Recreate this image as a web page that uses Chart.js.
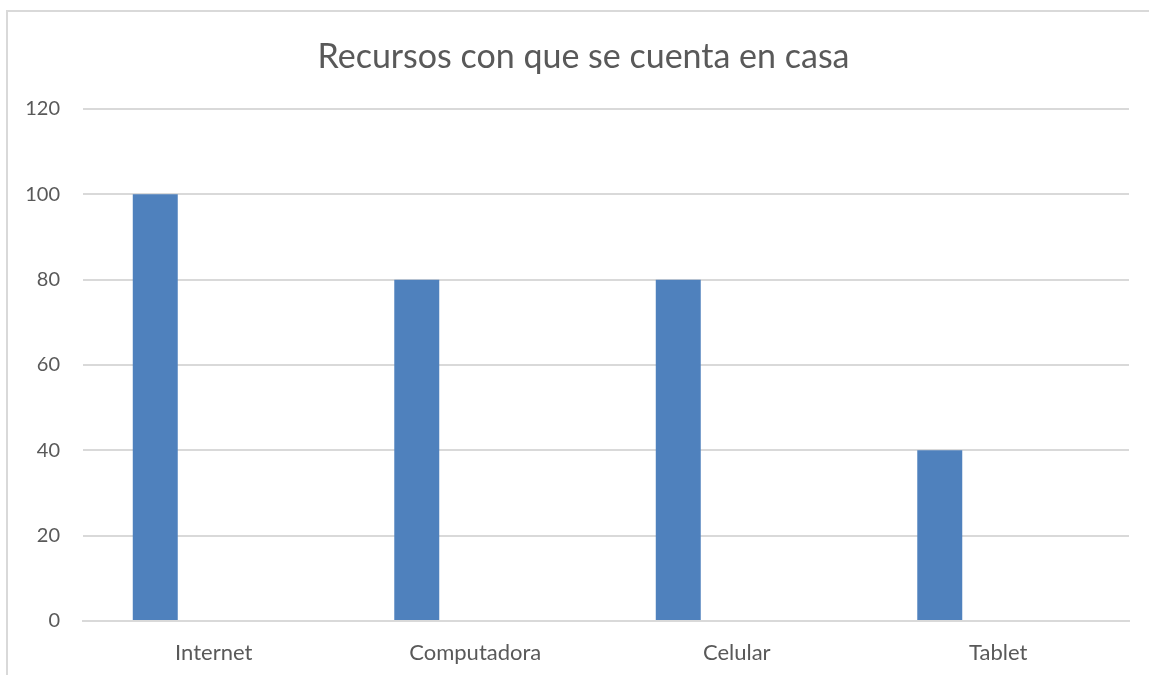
<!DOCTYPE html>
<html lang="es">
  <head>
    <meta charset="UTF-8" />
    <title>Recursos con que se cuenta en casa</title>
    <script src="https://cdn.jsdelivr.net/npm/chart.js"></script>
    <style>
      html,
      body {
        margin: 0;
        padding: 0;
        background: #ffffff;
        overflow: hidden;
      }
      .frame {
        position: absolute;
        left: 6px;
        top: 10px;
        width: 1200px;
        height: 700px;
        border: 2px solid #d9d9d9;
        box-sizing: border-box;
      }
      .chart-box {
        position: absolute;
        left: 0;
        top: 0;
        width: 1149px;
        height: 675px;
      }
    </style>
  </head>
  <body>
    <div class="frame"></div>
    <div class="chart-box">
      <canvas id="resChart"></canvas>
    </div>

    <script>
      const chartTitle = "Recursos con que se cuenta en casa";
      const categories = ["Internet", "Computadora", "Celular", "Tablet"];
      const serie1 = [100, 80, 80, 40];
      // the other two series of the sheet are empty, but they still take room in each group
      const serie2 = [null, null, null, null];
      const serie3 = [null, null, null, null];
      const yTicks = [0, 20, 40, 60, 80, 100, 120];

      const textColor = "#595959";
      const gridColor = "#d9d9d9";
      const fontFamily = "Lato, 'Liberation Sans', sans-serif";

      // title centred on the outer frame rather than on the canvas
      const frameTitle = {
        id: "frameTitle",
        afterDraw(chart) {
          const c = chart.ctx;
          c.save();
          c.fillStyle = textColor;
          c.font = "34px " + fontFamily;
          c.textAlign = "center";
          c.textBaseline = "middle";
          c.fillText(chartTitle, 583.5, 57);
          c.restore();
        },
      };

      const ctx = document.getElementById("resChart").getContext("2d");

      new Chart(ctx, {
        type: "bar",
        data: {
          labels: categories,
          datasets: [
            { label: "Serie 1", data: serie1, backgroundColor: "#4f81bd" },
            { label: "Serie 2", data: serie2, backgroundColor: "#c0504d" },
            { label: "Serie 3", data: serie3, backgroundColor: "#9bbb59" },
          ],
        },
        plugins: [frameTitle],
        options: {
          responsive: true,
          maintainAspectRatio: false,
          animation: false,
          categoryPercentage: 0.671,
          barPercentage: 0.769,
          layout: {
            padding: { left: 0, right: 20, top: 109, bottom: 0 },
          },
          plugins: {
            legend: { display: false },
            tooltip: { enabled: false },
            title: { display: false },
          },
          scales: {
            x: {
              grid: { display: false, drawTicks: false },
              border: { display: true, color: gridColor, width: 2 },
              ticks: {
                color: textColor,
                font: { family: fontFamily, size: 22 },
                padding: 19,
                maxRotation: 0,
              },
              afterFit: (scale) => {
                scale.height = 54;
              },
            },
            y: {
              min: 0,
              max: 120,
              afterBuildTicks: (scale) => {
                scale.ticks = yTicks.map((v) => ({ value: v }));
              },
              grid: { color: gridColor, lineWidth: 2, drawTicks: false },
              border: { display: false },
              ticks: {
                color: textColor,
                font: { family: fontFamily, size: 20 },
                padding: 23,
              },
              afterFit: (scale) => {
                scale.width = 83;
              },
            },
          },
        },
      });
    </script>
  </body>
</html>
